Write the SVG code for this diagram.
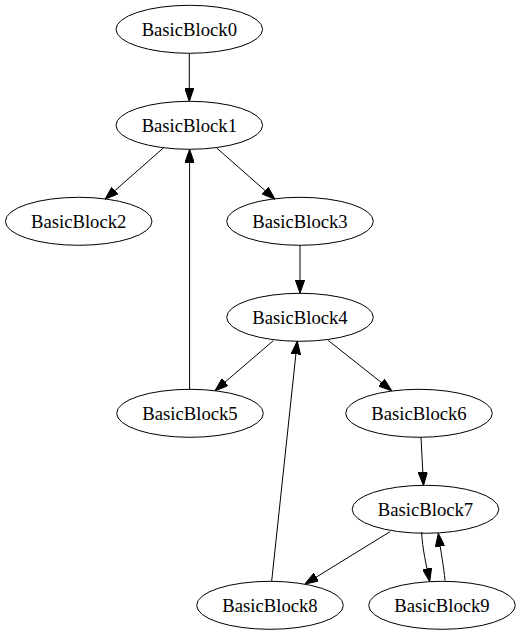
<svg xmlns="http://www.w3.org/2000/svg" width="521" height="635" viewBox="0 0 521 635">
<style>
.node ellipse{fill:none;stroke:#000;stroke-width:1}
.node text{font-family:"Liberation Serif","Times New Roman",serif;font-size:18.67px;text-anchor:middle;fill:#000}
.edges path{fill:none;stroke:#000;stroke-width:1}
</style>
<defs>
<marker id="arr" viewBox="0 0 13.33 9.33" refX="13.33" refY="4.67" markerWidth="13.33" markerHeight="9.33" markerUnits="userSpaceOnUse" orient="auto">
<path d="M0,0 L13.33,4.67 L0,9.33 Z" fill="#000" stroke="#000" stroke-width="1"/>
</marker>
</defs>
<rect width="521" height="635" fill="#fff"/>
<g id="edges" class="edges">
<path d="M189.3,53.3 L189.3,101.3" marker-end="url(#arr)"/>
<path d="M163.3,148 L105,199.3" marker-end="url(#arr)"/>
<path d="M216.7,148 L275,199.3" marker-end="url(#arr)"/>
<path d="M300,245.3 L300,293.3" marker-end="url(#arr)"/>
<path d="M273.3,340.7 L215,390.7" marker-end="url(#arr)"/>
<path d="M328.3,340.5 L391.7,390.7" marker-end="url(#arr)"/>
<path d="M189.6,389.3 L189.6,149.3" marker-end="url(#arr)"/>
<path d="M421,437.3 L423.5,485.5" marker-end="url(#arr)"/>
<path d="M390,531.7 L305,584" marker-end="url(#arr)"/>
<path d="M421.7,532 C422,548 427,568 429.7,581.5" marker-end="url(#arr)"/>
<path d="M445,580.5 C444,568 440.5,550 438.3,533.3" marker-end="url(#arr)"/>
<path d="M271.7,581 L297.3,341" marker-end="url(#arr)"/>
</g>
<g id="BasicBlock0" class="node"><ellipse cx="189.3" cy="29.3" rx="73.3" ry="24"/><text x="189.3" y="35.6">BasicBlock0</text></g>
<g id="BasicBlock1" class="node"><ellipse cx="189.3" cy="125.3" rx="73.3" ry="24"/><text x="189.3" y="131.6">BasicBlock1</text></g>
<g id="BasicBlock2" class="node"><ellipse cx="78.7" cy="221.3" rx="73.3" ry="24"/><text x="78.7" y="227.6">BasicBlock2</text></g>
<g id="BasicBlock3" class="node"><ellipse cx="300" cy="221.3" rx="73.3" ry="24"/><text x="300" y="227.6">BasicBlock3</text></g>
<g id="BasicBlock4" class="node"><ellipse cx="300" cy="317.3" rx="73.3" ry="24"/><text x="300" y="323.6">BasicBlock4</text></g>
<g id="BasicBlock5" class="node"><ellipse cx="190" cy="413.3" rx="73.3" ry="24"/><text x="190" y="419.6">BasicBlock5</text></g>
<g id="BasicBlock6" class="node"><ellipse cx="419" cy="413.3" rx="73.3" ry="24"/><text x="419" y="419.6">BasicBlock6</text></g>
<g id="BasicBlock7" class="node"><ellipse cx="425.5" cy="509.3" rx="73.3" ry="24"/><text x="425.5" y="515.6">BasicBlock7</text></g>
<g id="BasicBlock8" class="node"><ellipse cx="270" cy="605.3" rx="73.3" ry="24"/><text x="270" y="611.6">BasicBlock8</text></g>
<g id="BasicBlock9" class="node"><ellipse cx="442" cy="605.3" rx="73.3" ry="24"/><text x="442" y="611.6">BasicBlock9</text></g>
</svg>
